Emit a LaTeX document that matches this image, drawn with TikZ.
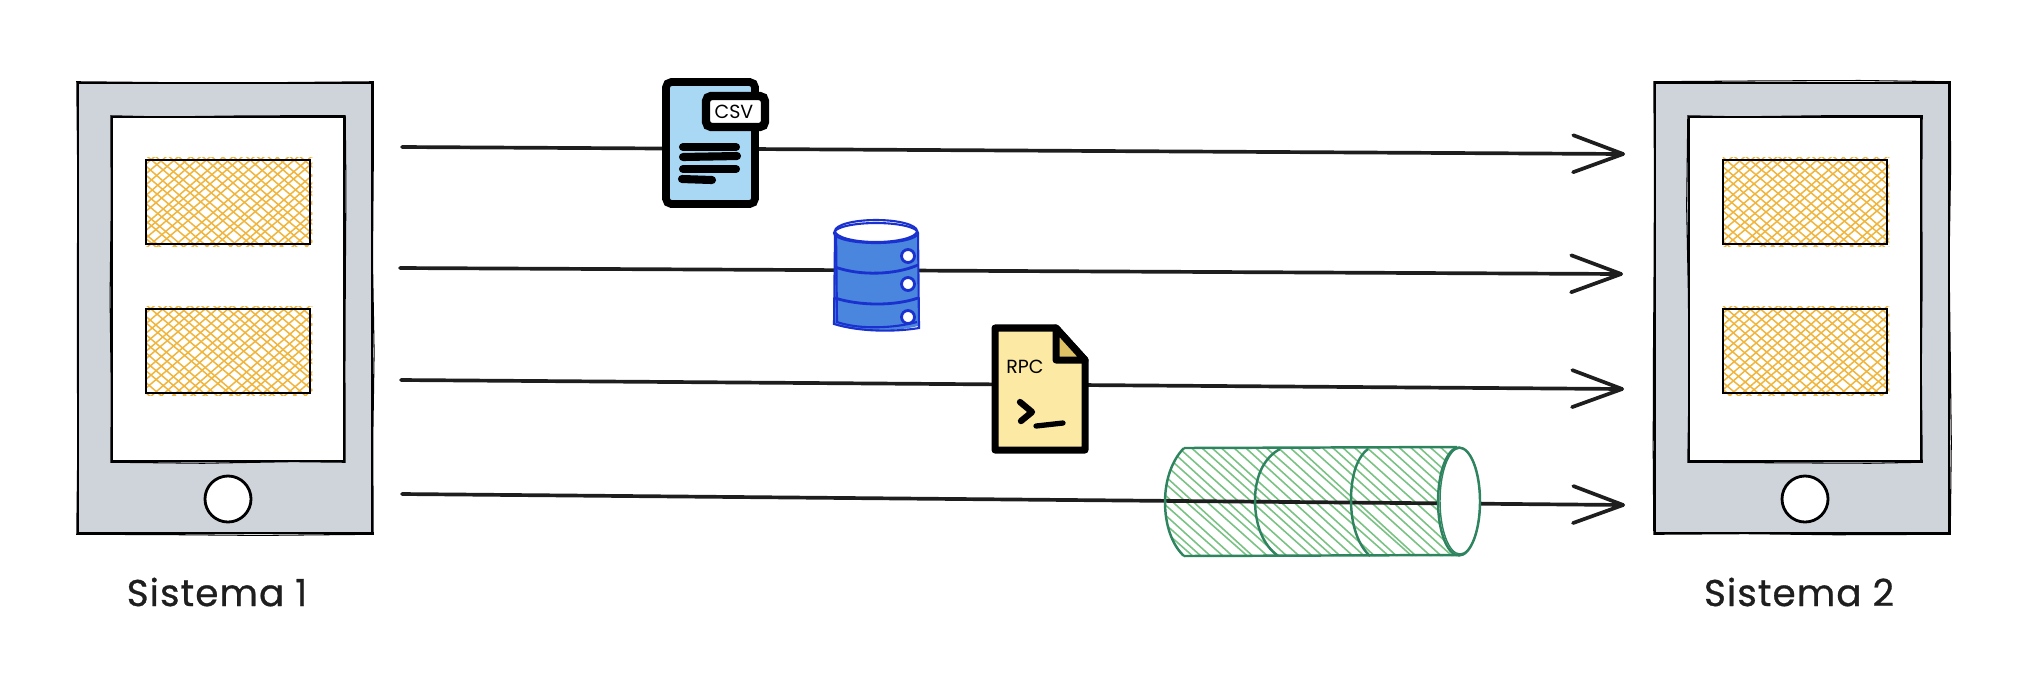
\documentclass[tikz,border=0pt]{standalone}
\usepackage{fontspec}
\usepackage{xcolor}
\usetikzlibrary{arrows.meta, calc, decorations.pathmorphing}
\setmainfont{Poppins}
\newfontfamily\handfont[FakeBold=0.8, LetterSpace=3]{Poppins}
\definecolor{inkdark}{HTML}{1E1E1E}
\definecolor{tabletgrey}{HTML}{CED4DA}
\definecolor{slotorange}{HTML}{F0B53A}
\definecolor{docblue}{HTML}{A9D8F5}
\definecolor{dbblue}{HTML}{4A86DD}
\definecolor{dbstroke}{HTML}{1A30CF}
\definecolor{docyellow}{HTML}{FBE9A4}
\definecolor{foldyellow}{HTML}{DFC265}
\definecolor{pipegreen}{HTML}{2F8460}
\definecolor{hatchgreen}{HTML}{79C283}
\tikzset{
  >={Straight Barb[length=5mm,width=3.7mm,round]},
  tabletbody/.style={draw=black, fill=tabletgrey, line width=0.65pt, minimum width=2.94cm, minimum height=4.5cm, inner sep=0pt},
  tabletscreen/.style={draw=black, fill=white, line width=0.65pt, minimum width=2.32cm, minimum height=3.44cm, inner sep=0pt},
  tabletbutton/.style={circle, draw=black, fill=white, line width=0.8pt, minimum size=0.46cm, inner sep=0pt},
  slotbox/.style={fill=white, minimum width=1.63cm, minimum height=0.83cm, inner sep=0pt},
  slotline/.style={draw=slotorange, line width=0.42pt},
  roughline/.style={draw=black, line width=0.3pt, decorate, decoration={random steps, segment length=26pt, amplitude=0.35pt}},
  flow/.style={draw=inkdark, line width=1.05pt, line cap=round, ->},
  syslabel/.style={text=inkdark, font=\handfont\fontsize{10.6}{12}\selectfont, inner sep=0pt},
  doclabel/.style={text=black, font=\fontsize{5.4}{6}\selectfont, inner sep=0pt},
  docline/.style={line width=2.3pt, line cap=round, draw=black},
  dbline/.style={draw=dbstroke, line width=0.6pt},
  pipeline/.style={draw=pipegreen, line width=0.7pt},
}

% hatched slot of a tablet: name, centre
\newcommand{\hatchslot}[2]{
  \node[slotbox] (#1) at (#2) {};
  \begin{scope}
    \clip ($(#1.south west)+(0,2)$) rectangle ($(#1.north east)+(2,-2)$);
    \foreach \d in {-19,...,19} {
      \draw[slotline] ($(#1.center)+(\d*11+1.5*rand,-60)$) -- ++(140+3*rand,120);
      \draw[slotline] ($(#1.center)+(\d*11+1.5*rand,-60)$) -- ++(-140+3*rand,120);
    }
  \end{scope}
  \draw[line width=0.6pt, draw=black] (#1.south west) rectangle (#1.north east);
}

\begin{document}
\begin{tikzpicture}[x=0.01cm, y=-0.01cm]
  \useasboundingbox (0,0) rectangle (2034,690);
  \pgfmathsetseed{2034}

  % tablets
  \foreach \sys/\xc in {1/225, 2/1802} {
    \node[tabletbody] (body\sys) at (\xc,308) {};
    \draw[roughline] (body\sys.north west) rectangle (body\sys.south east);
    \node[tabletscreen] (screen\sys) at (\xc+3,289) {};
    \draw[roughline] (screen\sys.north west) rectangle (screen\sys.south east);
    \hatchslot{slota\sys}{\xc+3,202}
    \hatchslot{slotb\sys}{\xc+3,351}
    \node[tabletbutton] (button\sys) at (\xc+3,499) {};
  }

  % labels
  \node[syslabel] (label1) at (217,592) {Sistema 1};
  \node[syslabel] (label2) at (1799,592) {Sistema 2};

  % end points of the flows
  \coordinate (starta) at (402,147);
  \coordinate (enda) at (1625,154);
  \coordinate (startb) at (400,268);
  \coordinate (endb) at (1623,274);
  \coordinate (startc) at (401,380);
  \coordinate (endc) at (1624,389);
  \coordinate (startd) at (402,494);
  \coordinate (endd) at (1625,505);

  % flows
  \draw[flow] (starta) -- (enda);
  \draw[flow] (startb) -- (endb);
  \draw[flow] (startc) -- (endc);

  % csv file
  \draw[fill=docblue, line width=2.2pt, rounded corners=1.5pt] (666,82) -- (755,82) -- (755,204) -- (666,204) -- cycle;
  \draw[fill=white, line width=2.4pt, rounded corners=1.5pt] (706,96) rectangle (765,127);
  \node[doclabel] (csv) at (734,112) {CSV};
  \draw[docline] (683,147) -- (736,147);
  \draw[docline] (683,157) -- (737,156);
  \draw[docline] (683,169) -- (736,169);
  \draw[docline] (682,179) -- (712,180);

  % database
  \fill[dbblue] (835,233) -- (835,324) .. controls (860,332) and (895,332) .. (918,326) -- (918,233) -- cycle;
  \draw[dbline] (835,233) -- (834,324) .. controls (860,332) and (895,332) .. (919,328) -- (918,233);
  \draw[dbline] (836,229) -- (837,322) .. controls (860,330) and (895,328) .. (917,322);
  \draw[dbline, fill=white] (876,233) ellipse (42 and 10);
  \draw[dbline] (876,231) ellipse (41 and 11);
  \draw[dbline, line width=0.8pt] (835,267) .. controls (860,276) and (895,275) .. (918,265);
  \draw[dbline, line width=0.8pt] (835,298) .. controls (860,306) and (895,306) .. (918,298);
  \foreach \yh in {256,284,317} {
    \draw[dbline, fill=white, line width=0.8pt] (908,\yh) circle (6.5);
  }

  % rpc file
  \draw[fill=docyellow, line width=2pt, line join=round] (995,328) -- (1056,328) -- (1085,360) -- (1085,450) -- (995,450) -- cycle;
  \draw[fill=foldyellow, line width=2pt, line join=round] (1056,328) -- (1056,360) -- (1085,360) -- cycle;
  \node[doclabel] (rpc) at (1025,367) {RPC};
  \draw[line width=1.8pt, line cap=round, line join=round] (1020,402) -- (1032,412) -- (1021,421);
  \draw[line width=1.5pt, line cap=round] (1036,426) -- (1063,423);

  % tube
  \begin{scope}
    \clip (1184,448) .. controls (1172,460) and (1165,480) .. (1165,502) .. controls (1165,525) and (1172,545) .. (1184,556) -- (1457,556) -- (1457,448) -- cycle;
    \foreach \d in {-14,...,28} {
      \draw[draw=hatchgreen, line width=0.45pt] (1170+\d*11+1.5*rand,430) -- ++(150+3*rand,135);
    }
  \end{scope}
  \draw[flow] (startd) -- (endd);
  \draw[pipeline] (1184,448) -- (1457,447);
  \draw[pipeline] (1184,556) -- (1457,555);
  \draw[pipeline] (1184,448) .. controls (1172,460) and (1165,480) .. (1165,502) .. controls (1165,525) and (1172,545) .. (1184,556);
  \draw[pipeline] (1280,449) .. controls (1263,458) and (1255,478) .. (1255,500) .. controls (1255,525) and (1263,545) .. (1278,556);
  \draw[pipeline] (1368,449) .. controls (1356,458) and (1351,478) .. (1351,500) .. controls (1351,525) and (1358,545) .. (1370,556);
  \draw[pipeline, fill=white] (1459,501.5) ellipse (21 and 54);
  \draw[pipeline, line width=0.4pt] (1460,501) ellipse (20 and 53);
\end{tikzpicture}
\end{document}
